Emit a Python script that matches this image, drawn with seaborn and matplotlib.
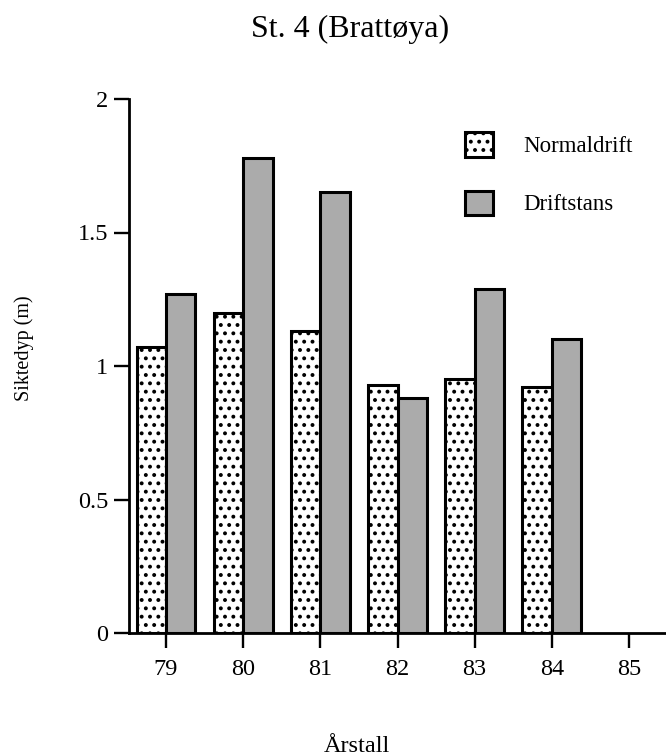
import numpy as np
import pandas as pd
import seaborn as sns
import matplotlib
matplotlib.use("Agg")
import matplotlib.pyplot as plt
from matplotlib.ticker import FuncFormatter

# Siktedyp, St. 4 (Brattøya)
years = ["79", "80", "81", "82", "83", "84", "85"]
data_years = ["79", "80", "81", "82", "83", "84"]
normaldrift = [1.07, 1.20, 1.13, 0.93, 0.95, 0.92]
driftstans = [1.27, 1.78, 1.65, 0.88, 1.29, 1.10]
series = ["Normaldrift", "Driftstans"]

df = pd.DataFrame({
    "year": data_years * 2,
    "value": normaldrift + driftstans,
    "series": [series[0]] * len(data_years) + [series[1]] * len(data_years),
})

sns.set_style("ticks")
plt.rcParams["font.family"] = ["Liberation Serif", "DejaVu Serif"]
plt.rcParams["hatch.linewidth"] = 1.6
for k in ["text.color", "axes.labelcolor", "xtick.color", "ytick.color", "axes.edgecolor"]:
    plt.rcParams[k] = "black"

fig = plt.figure(figsize=(6.66, 7.56), dpi=100)
ax = fig.add_axes([129 / 666, 1 - 633 / 756, 1 - 129 / 666, (633 - 99) / 756])

sns.barplot(data=df, x="year", y="value", hue="series", order=years,
            hue_order=series, palette=["white", "#ababab"], saturation=1,
            width=0.76, edgecolor="black", linewidth=2.2, errorbar=None, ax=ax)

# dotted pattern for Normaldrift
for bar in ax.containers[0]:
    bar.set_hatch("..")

ax.set_xlim(-0.48, 6.48)
ax.set_ylim(0, 2)
ax.set_yticks([0, 0.5, 1, 1.5, 2])
ax.yaxis.set_major_formatter(FuncFormatter(lambda v, p: f"{v:g}"))
ax.set_xlabel("")
ax.set_ylabel("")
sns.despine(ax=ax)
for s in ["left", "bottom"]:
    ax.spines[s].set_linewidth(2.0)
ax.tick_params(axis="both", length=11, width=1.7, labelsize=17.5, direction="out")
ax.tick_params(axis="y", pad=4)
ax.tick_params(axis="x", pad=8)

h, l = ax.get_legend_handles_labels()
leg = ax.legend(h, l, frameon=False, fontsize=16.5, loc="upper left",
                bbox_to_anchor=(454 / 666, 1 - 121 / 756), bbox_transform=fig.transFigure,
                borderpad=0, handlelength=1.22, handleheight=1.25,
                handletextpad=1.3, labelspacing=1.45)
leg.legend_handles[0].set_hatch("..")

fig.text(350 / 666, 1 - 37 / 756, "St. 4 (Brattøya)", ha="center", va="baseline", fontsize=23)
fig.text(357 / 666, 1 - 752 / 756, "Årstall", ha="center", va="baseline", fontsize=17.5)
fig.text(24 / 666, 1 - 348 / 756, "Siktedyp (m)", ha="center", va="center",
         rotation=90, fontsize=14.5)

fig.savefig("out.png", dpi=100)
